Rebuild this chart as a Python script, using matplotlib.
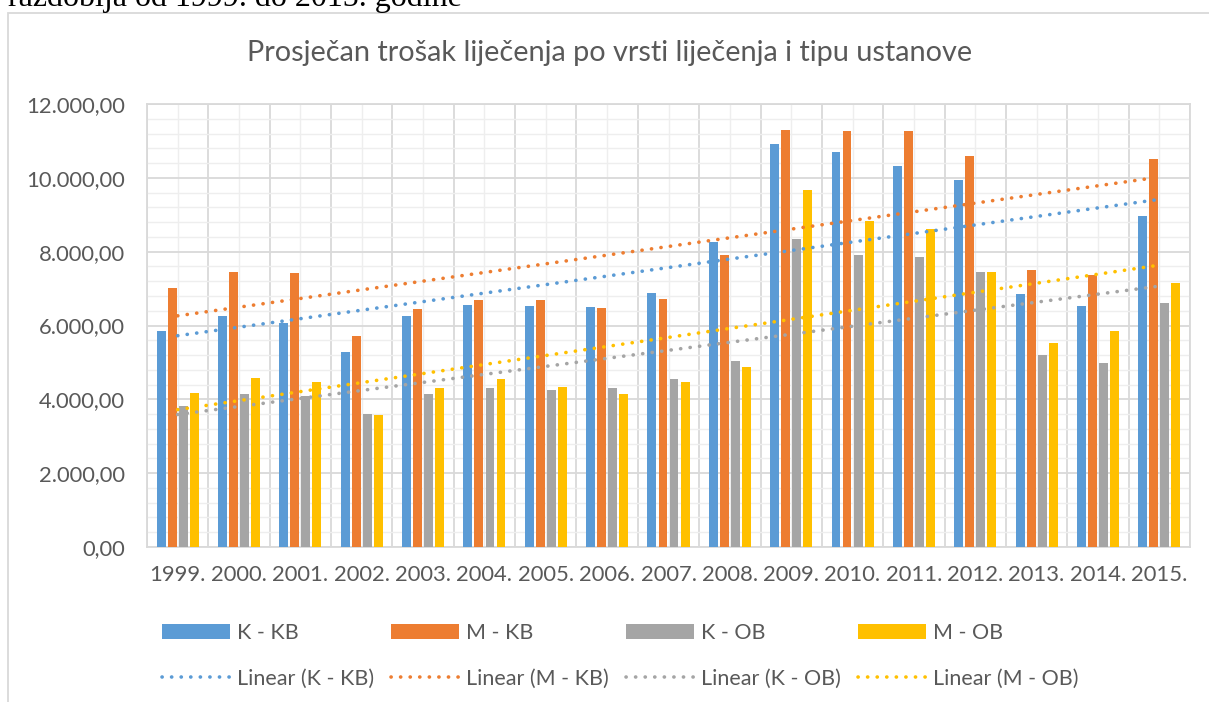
import numpy as np
import matplotlib
matplotlib.use("Agg")
import matplotlib.pyplot as plt
from matplotlib.patches import Patch, Rectangle
from matplotlib.lines import Line2D
from matplotlib.ticker import MultipleLocator, FixedLocator, FuncFormatter

plt.rcParams['font.family'] = ['Lato', 'DejaVu Sans']

years = ['1999.', '2000.', '2001.', '2002.', '2003.', '2004.', '2005.', '2006.', '2007.',
         '2008.', '2009.', '2010.', '2011.', '2012.', '2013.', '2014.', '2015.']

k_kb = [5860, 6250, 6070, 5280, 6250, 6550, 6530, 6510, 6890,
        8250, 10930, 10700, 10320, 9930, 6860, 6540, 8970]
m_kb = [7020, 7460, 7430, 5710, 6460, 6690, 6690, 6470, 6720,
        7920, 11300, 11280, 11280, 10590, 7510, 7360, 10510]
k_ob = [3820, 4140, 4080, 3600, 4150, 4300, 4260, 4310, 4550,
        5030, 8330, 7920, 7850, 7440, 5210, 4980, 6610]
m_ob = [4170, 4580, 4460, 3580, 4300, 4560, 4330, 4140, 4460,
        4880, 9660, 8830, 8610, 7440, 5530, 5840, 7150]

series = [('K - KB', k_kb, '#5B9BD5'),
          ('M - KB', m_kb, '#ED7D31'),
          ('K - OB', k_ob, '#A5A5A5'),
          ('M - OB', m_ob, '#FFC000')]

txt = '#595959'
W, H = 1209, 702
fig = plt.figure(figsize=(W / 100, H / 100), dpi=100)
ax = fig.add_axes([147 / W, 1 - 547 / H, (1190 - 147) / W, (547 - 104) / H])

x = np.arange(len(years))
slot = 0.18
bw = 0.145
handles = []
trend_handles = []
for i, (name, vals, col) in enumerate(series):
    ax.bar(x + (i - 1.5) * slot, vals, width=bw, color=col, zorder=3)
    # linear trendline (excel style, x = 1..n)
    k, b = np.polyfit(x + 1, vals, 1)
    ax.plot(x, k * (x + 1) + b, color=col, lw=2.6, linestyle=(0, (0.05, 2.6)),
            dash_capstyle='round', zorder=4)
    handles.append(Patch(facecolor=col, label=name))
    trend_handles.append(Line2D([], [], color=col, lw=2.6, linestyle=(0, (0.05, 2.6)),
                                dash_capstyle='round', label='Linear (%s)' % name))

ax.set_xlim(-0.5, len(years) - 0.5)
ax.set_ylim(0, 12000)

# category boundaries = major, centers = minor (labels)
ax.xaxis.set_major_locator(FixedLocator(np.arange(-0.5, len(years), 1.0)))
ax.xaxis.set_minor_locator(FixedLocator(x))
ax.set_xticklabels([], minor=False)
ax.set_xticklabels(years, minor=True)
ax.yaxis.set_major_locator(MultipleLocator(2000))
ax.yaxis.set_minor_locator(MultipleLocator(400))


def fmt(v, pos):
    s = '{:,.2f}'.format(v)
    return s.replace(',', 'X').replace('.', ',').replace('X', '.')


ax.yaxis.set_major_formatter(FuncFormatter(fmt))
ax.tick_params(axis='both', which='both', length=0, colors=txt, labelsize=15.8)
ax.tick_params(axis='y', pad=16)
ax.tick_params(axis='x', which='minor', pad=13)

ax.grid(which='major', color='#D9D9D9', lw=1.3, zorder=0)
ax.grid(which='minor', color='#EEEEEE', lw=1.0, zorder=0)
ax.set_axisbelow(True)
for s in ax.spines.values():
    s.set_color('#D9D9D9')
    s.set_linewidth(1.3)

fig.text(610 / W, 1 - 53 / H, 'Prosječan trošak liječenja po vrsti liječenja i tipu ustanove',
         ha='center', va='center', fontsize=20.8, color=txt)

# text of the page above the chart, cut off
fig.text(8 / W, 1 - 6 / H, 'razdoblja od 1999. do 2015. godine', ha='left', va='baseline',
         fontsize=23, color='black', family=['Liberation Serif', 'DejaVu Serif'])

# chart area border
fig.patches.append(Rectangle((8 / W, -0.1), 1.2, 1.1 - 13 / H, transform=fig.transFigure,
                             fill=False, edgecolor='#D9D9D9', lw=1.3))

order = []
for hb, ht in zip(handles, trend_handles):
    order += [hb, ht]
leg = fig.legend(handles=order, ncol=4, loc='upper left',
                 bbox_to_anchor=(162 / W, 1 - 623 / H), frameon=False,
                 fontsize=15.5, labelcolor=txt, handlelength=3.15, handleheight=0.65,
                 handletextpad=0.33, columnspacing=0.8, labelspacing=1.2,
                 borderpad=0, borderaxespad=0)

fig.savefig('out.png', dpi=100)
